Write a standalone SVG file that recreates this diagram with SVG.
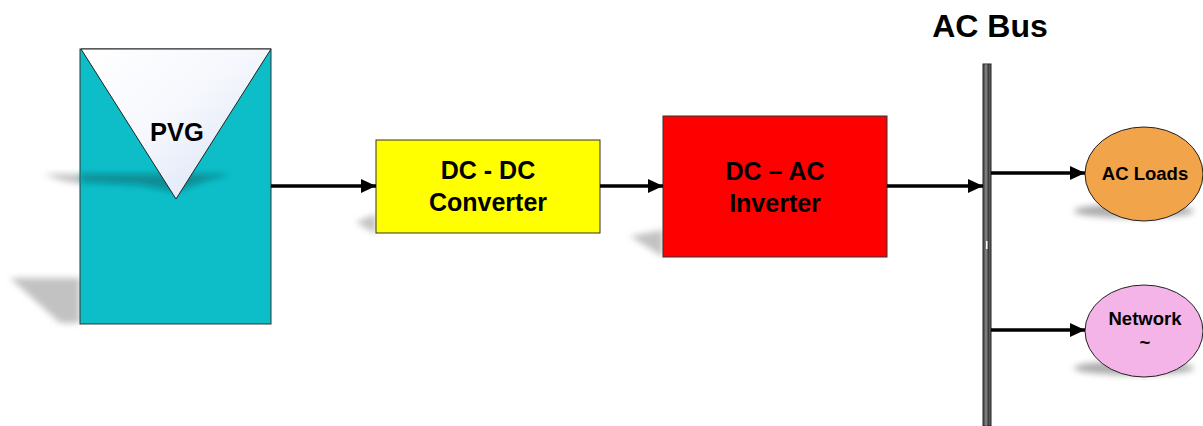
<svg xmlns="http://www.w3.org/2000/svg" width="1203" height="426" viewBox="0 0 1203 426">
  <defs>
    <linearGradient id="triGrad" x1="0" y1="0" x2="1" y2="1">
      <stop offset="0" stop-color="#ffffff"/>
      <stop offset="0.45" stop-color="#f6f8fd"/>
      <stop offset="1" stop-color="#d4def4"/>
    </linearGradient>
    <filter id="soft" x="-20%" y="-50%" width="140%" height="200%">
      <feGaussianBlur stdDeviation="3"/>
    </filter>
    <marker id="arrow" markerWidth="15" markerHeight="14" refX="15" refY="7" orient="auto" markerUnits="userSpaceOnUse">
      <path d="M0,0 L15,7 L0,14 z" fill="#000"/>
    </marker>
  </defs>
  <style>
    .lbl { font-family: "Liberation Sans", Arial, sans-serif; font-weight: bold; fill: #000; text-anchor: middle; }
    .box { stroke: #333; stroke-width: 1; }
    .shadow { fill: #9a9a9a; opacity: 0.6; }
    .conn { stroke: #000; stroke-width: 3.5; fill: none; marker-end: url(#arrow); }
  </style>

  <!-- PV generator -->
  <g id="pvg">
    <polygon class="shadow" points="80,278 10,278 60,323 80,323" filter="url(#soft)"/>
    <polygon points="44,174 80,174 80,184 60,180" fill="#9a9a9a" opacity="0.6" filter="url(#soft)"/>
    <rect x="80" y="49" width="191" height="275" fill="#0dbec8" class="box"/>
    <polygon points="80,174 232,174 205,181 176,192 140,185 80,182" fill="#07858d" opacity="0.85" filter="url(#soft)"/>
    <polygon points="81,49 271,49 176,199" fill="url(#triGrad)" stroke="#222" stroke-width="1"/>
    <text class="lbl" x="177" y="141" font-size="25.5">PVG</text>
  </g>

  <!-- DC-DC converter -->
  <g id="dcdc">
    <polygon class="shadow" points="376,214 356,222 376,234" filter="url(#soft)"/>
    <rect x="376" y="140" width="224" height="93" fill="#ffff00" class="box"/>
    <text class="lbl" x="488" y="179" font-size="25">DC - DC</text>
    <text class="lbl" x="488" y="211" font-size="25">Converter</text>
  </g>

  <!-- DC-AC inverter -->
  <g id="inverter">
    <polygon class="shadow" points="663,230 630,236 663,257" filter="url(#soft)"/>
    <rect x="663" y="116" width="224" height="141" fill="#ff0000" class="box"/>
    <text class="lbl" x="775" y="180" font-size="25">DC – AC</text>
    <text class="lbl" x="775" y="212" font-size="25">Inverter</text>
  </g>

  <!-- AC bus -->
  <g id="acbus">
    <text class="lbl" x="990" y="37" font-size="32">AC Bus</text>
    <rect x="983" y="64" width="8" height="362" fill="#5a5a5a" stroke="#222222" stroke-width="1"/>
    <line x1="986" y1="64" x2="986" y2="426" stroke="#b0b0b0" stroke-width="0.8"/>
    <line x1="988.5" y1="64" x2="988.5" y2="426" stroke="#333333" stroke-width="0.8"/>
    <rect x="986" y="241" width="1.5" height="8" fill="#ffffff"/>
  </g>

  <!-- AC loads -->
  <g id="acloads">
    <ellipse cx="1134" cy="211" rx="60" ry="7" fill="#8a8a8a" opacity="0.7" filter="url(#soft)"/>
    <ellipse cx="1144" cy="174" rx="59" ry="47" fill="#f2a44a" stroke="#222" stroke-width="1"/>
    <text class="lbl" x="1145" y="180" font-size="18.5">AC Loads</text>
  </g>

  <!-- Grid network -->
  <g id="network">
    <ellipse cx="1134" cy="368" rx="60" ry="7" fill="#8a8a8a" opacity="0.7" filter="url(#soft)"/>
    <ellipse cx="1144" cy="331" rx="59" ry="46" fill="#f5b4e8" stroke="#222" stroke-width="1"/>
    <text class="lbl" x="1145" y="325" font-size="18.5">Network</text>
    <text class="lbl" x="1145" y="349" font-size="18.5">~</text>
  </g>

  <!-- Connectors -->
  <g id="connectors">
    <line class="conn" x1="271" y1="186" x2="376" y2="186"/>
    <line class="conn" x1="600" y1="186" x2="663" y2="186"/>
    <line class="conn" x1="887" y1="186" x2="983" y2="186"/>
    <line class="conn" x1="991" y1="173" x2="1085" y2="173"/>
    <line class="conn" x1="991" y1="330" x2="1085" y2="330"/>
  </g>
</svg>
